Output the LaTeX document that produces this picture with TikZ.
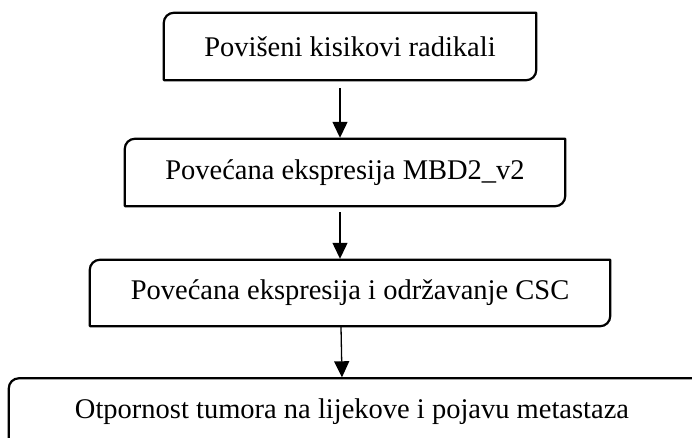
\documentclass[tikz,border=0pt]{standalone}
\usepackage{fontspec}
\setmainfont{Liberation Serif}
\usetikzlibrary{arrows.meta}
\tikzset{
  boxnode/.style={draw=none, minimum height=67pt, inner sep=0pt, align=center,
    font=\fontsize{28.5}{34}\selectfont},
  boxline/.style={line width=2.2pt, line join=round},
  arr/.style={line width=1.3pt, -{Triangle[length=16pt,width=15pt]}}
}
\newcommand{\diagbox}[1]{%
  \draw[boxline] ([yshift=-10pt]#1.north west) arc[start angle=180, end angle=90, radius=10pt]
    -- (#1.north east) -- ([yshift=10pt]#1.south east)
    arc[start angle=0, end angle=-90, radius=10pt] -- (#1.south west) -- cycle;}
\begin{document}
\begin{tikzpicture}[x=1pt,y=1pt]
\useasboundingbox (0,0) rectangle (692,438);
\clip (0,0) rectangle (692,438);
\fill[white] (0,0) rectangle (692,438);
\node[boxnode, minimum width=372pt] (b1) at (350,391.5) {Povišeni kisikovi radikali};
\node[boxnode, minimum width=440pt] (b2) at (345,265.5) {Povećana ekspresija MBD2\_v2};
\node[boxnode, minimum width=520pt, minimum height=66pt] (b3) at (350,145) {Povećana ekspresija i održavanje CSC};
\node[boxnode, minimum width=686pt] (b4) at (352,26) {Otpornost tumora na lijekove i pojavu metastaza};
\diagbox{b1}
\diagbox{b2}
\diagbox{b3}
\diagbox{b4}
\draw[arr] ([xshift=-10pt,yshift=-8pt]b1.south) -- ([xshift=-5pt,yshift=1pt]b2.north);
\draw[arr] ([xshift=-5pt,yshift=-6pt]b2.south) -- ([xshift=-10pt,yshift=1pt]b3.north);
\draw[arr] ([xshift=-9pt,yshift=-1pt]b3.south) -- ([xshift=-10pt,yshift=1pt]b4.north);
\end{tikzpicture}
\end{document}
